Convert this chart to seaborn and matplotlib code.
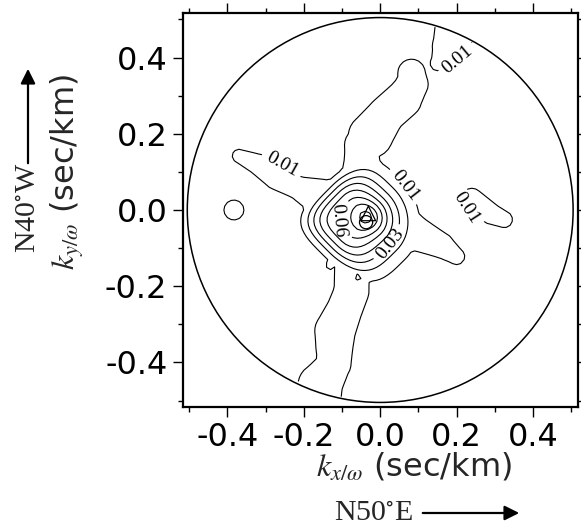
import numpy as np
import matplotlib
matplotlib.use("Agg")
import matplotlib.pyplot as plt
import seaborn as sns
from matplotlib.patches import Circle, FancyArrowPatch

# ---- slowness window (sec/km) ----
slow_lim = 0.517
circle_radius = 0.505

# ---- contour levels of normalised power ----
levels = [0.01, 0.02, 0.03, 0.04, 0.05, 0.06, 0.07, 0.08]

# ---- low-power ridges: centre-line vertices (x, y) and half-widths ----
ridge_power = 0.016
arm_ne_x = [-0.045, -0.05, -0.045, -0.025, 0.015, 0.06, 0.085, 0.082]
arm_ne_y = [0.09, 0.14, 0.17, 0.195, 0.25, 0.29, 0.33, 0.36]
arm_ne_w = [0.06, 0.045, 0.05, 0.06, 0.05, 0.05, 0.042, 0.037]
arm_rim_x = [0.15, 0.18, 0.20]
arm_rim_y = [0.385, 0.43, 0.48]
arm_rim_w = [0.02, 0.045, 0.06]
arm_nw_x = [-0.16, -0.22, -0.27, -0.32, -0.37]
arm_nw_y = [0.035, 0.06, 0.088, 0.12, 0.142]
arm_nw_w = [0.05, 0.03, 0.036, 0.028, 0.018]
arm_se_x = [0.05, 0.10, 0.16, 0.20]
arm_se_y = [-0.04, -0.065, -0.093, -0.122]
arm_se_w = [0.06, 0.045, 0.034, 0.022]
arm_s_x = [-0.074, -0.075, -0.093, -0.118, -0.12, -0.12, -0.157, -0.17]
arm_s_y = [-0.12, -0.214, -0.26, -0.317, -0.36, -0.404, -0.46, -0.53]
arm_s_w = [0.046, 0.047, 0.048, 0.055, 0.05, 0.045, 0.06, 0.065]
arm_e_x = [0.24, 0.29, 0.325]
arm_e_y = [0.03, -0.01, -0.025]
arm_e_w = [0.028, 0.028, 0.022]

# isolated patches (x, y, radius, peak power)
patch_x = [0.0, -0.383, -0.132, -0.058]
patch_y = [0.02, 0.0, -0.145, -0.177]
patch_w = [0.07, 0.027, 0.01, 0.022]
patch_p = [0.016, 0.016, 0.016, 0.0215]

# ---- main power peak: steep NW/SW flanks, gentle SE/NE tails ----
peak_x, peak_y = -0.042, -0.02
peak_amp = 0.062
peak_axis_deg = -45.0
peak_scale_nw, peak_scale_sw = 0.115, 0.125
peak_scale_se, peak_scale_ne = 0.08, 0.072
flank_exponent = 4
cap_x, cap_y, cap_amp, cap_scale = -0.035, -0.018, 0.022, 0.03

# ---- markers: maximum-power slowness and reference slowness ----
peak_marker = (-0.031, -0.009)
ref_marker = (-0.037, -0.032)

# ---- contour label anchors ----
label_pos = {
    0.01: [(-0.258, 0.118), (0.058, 0.058), (0.238, 0.02), (0.195, 0.405)],
    0.03: [(0.007, -0.071)],
    0.06: [(-0.12, -0.028)],
}

# ---- build the power map on a slowness grid ----
g = np.linspace(-0.52, 0.52, 105)
X, Y = np.meshgrid(g, g)


def tube(xs, ys, ws):
    """Ridge of constant height along a polyline with varying half-width."""
    out = np.zeros_like(X)
    for i in range(len(xs) - 1):
        x0, y0, x1, y1 = xs[i], ys[i], xs[i + 1], ys[i + 1]
        dx, dy = x1 - x0, y1 - y0
        t = np.clip(((X - x0) * dx + (Y - y0) * dy) / (dx * dx + dy * dy), 0, 1)
        d = np.hypot(X - (x0 + t * dx), Y - (y0 + t * dy))
        w = ws[i] + (ws[i + 1] - ws[i]) * t
        out = np.maximum(out, ridge_power * np.exp(-0.5 * (d / w) ** 2))
    return out


plateau = np.zeros_like(X)
for xs, ys, ws in [(arm_ne_x, arm_ne_y, arm_ne_w), (arm_rim_x, arm_rim_y, arm_rim_w),
                   (arm_nw_x, arm_nw_y, arm_nw_w), (arm_se_x, arm_se_y, arm_se_w),
                   (arm_s_x, arm_s_y, arm_s_w), (arm_e_x, arm_e_y, arm_e_w)]:
    plateau = np.maximum(plateau, tube(xs, ys, ws))
for cx, cy, w, p in zip(patch_x, patch_y, patch_w, patch_p):
    plateau = np.maximum(plateau, p * np.exp(-0.5 * ((X - cx) ** 2 + (Y - cy) ** 2) / w ** 2))


def flank(s, scale_neg, scale_pos):
    return np.where(s < 0, (np.abs(s) / scale_neg) ** flank_exponent,
                    0.5 * (s / scale_pos) ** 2)


t = np.deg2rad(peak_axis_deg)
u = (X - peak_x) * np.cos(t) + (Y - peak_y) * np.sin(t)
v = -(X - peak_x) * np.sin(t) + (Y - peak_y) * np.cos(t)
peak = peak_amp * np.exp(-(flank(u, peak_scale_nw, peak_scale_se)
                           + flank(v, peak_scale_sw, peak_scale_ne)))
peak += cap_amp * np.exp(-0.5 * ((X - cap_x) ** 2 + (Y - cap_y) ** 2) / cap_scale ** 2)

power = np.maximum(plateau, peak)
power[np.hypot(X, Y) > circle_radius] = np.nan

# ---- figure ----
sns.set_style("ticks")
plt.rcParams["font.family"] = ["DejaVu Sans"]
plt.rcParams["mathtext.fontset"] = "stix"

fig = plt.figure(figsize=(5.81, 5.29), dpi=100)
ax = fig.add_axes([182.7 / 581, (529 - 407) / 529, 395 / 581, 394 / 529])

line_kw = dict(colors="black", linewidths=0.8)
plain_levels = [lv for lv in levels if lv not in label_pos]
ax.contour(X, Y, power, levels=plain_levels, **line_kw)
with plt.rc_context({"font.family": ["Liberation Serif"]}):
    for lev, pts in label_pos.items():
        cs = ax.contour(X, Y, power, levels=[lev], **line_kw)
        ax.clabel(cs, manual=pts, inline=True, fmt="%.2f",
                  fontsize=14, colors="black")

ax.add_patch(Circle((0, 0), circle_radius, fill=False, lw=1.1, color="black"))

sns.scatterplot(x=[peak_marker[0]], y=[peak_marker[1]], marker="^", s=110,
                facecolor="none", edgecolor="black", linewidth=0.9, ax=ax, zorder=5)
sns.scatterplot(x=[ref_marker[0]], y=[ref_marker[1]], marker="o", s=90,
                facecolor="none", edgecolor="black", linewidth=0.9, ax=ax, zorder=5)

ax.set_xlim(-slow_lim, slow_lim)
ax.set_ylim(-slow_lim, slow_lim)
ticks = [-0.4, -0.2, 0.0, 0.2, 0.4]
ax.set_xticks(ticks)
ax.set_yticks(ticks)
ax.set_xticklabels([f"{t:.1f}" for t in ticks])
ax.set_yticklabels([f"{t:.1f}" for t in ticks])
ax.set_xticks(np.arange(-0.5, 0.51, 0.2), minor=True)
ax.set_yticks(np.arange(-0.5, 0.51, 0.2), minor=True)
ax.tick_params(which="both", direction="out", top=True, right=True,
               labelsize=23, width=1, colors="black")
ax.tick_params(which="major", length=7, pad=4)
ax.tick_params(which="minor", length=3.5)
for s in ax.spines.values():
    s.set_linewidth(1.6)
    s.set_color("black")

ax.set_xlabel(r"$k_{x/\omega}$ (sec/km)", fontsize=23)
ax.set_ylabel(r"$k_{y/\omega}$ (sec/km)", fontsize=23)
ax.xaxis.set_label_coords(0.586, -0.11)
ax.yaxis.set_label_coords(-0.245, 0.596)

# ---- azimuth annotations ----
fig.text(374 / 581, 1 - 513 / 529, r"N50$^{\circ}$E", fontsize=21.5,
         family="Liberation Serif", ha="center", va="center")
fig.add_artist(FancyArrowPatch(
    (420 / 581, 1 - 513 / 529), (522 / 581, 1 - 513 / 529),
    transform=fig.transFigure, arrowstyle="-|>", mutation_scale=22,
    lw=1.6, color="black"))
fig.text(28 / 581, 1 - 208 / 529, r"N40$^{\circ}$W", fontsize=21.5,
         family="Liberation Serif", ha="center", va="center", rotation=90)
fig.add_artist(FancyArrowPatch(
    (28 / 581, 1 - 166 / 529), (28 / 581, 1 - 66 / 529),
    transform=fig.transFigure, arrowstyle="-|>", mutation_scale=22,
    lw=1.6, color="black"))

fig.savefig("out.png", dpi=100, facecolor="white")
